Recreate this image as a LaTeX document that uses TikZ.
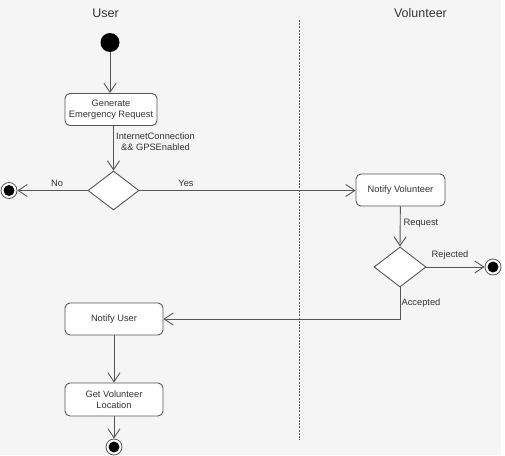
\documentclass[tikz,border=0pt]{standalone}
\usepackage{fontspec}
\setmainfont{Liberation Sans}
\usetikzlibrary{shapes.geometric,arrows.meta}
\definecolor{bg}{HTML}{F5F5F5}
\definecolor{ln}{HTML}{555555}
\definecolor{tx}{HTML}{333333}
\begin{document}
\begin{tikzpicture}[x=1pt,y=-1pt,
  every node/.style={text=tx,font=\fontsize{9.3}{11}\selectfont},
  act/.style={draw=ln,line width=0.9pt,fill=white,rounded corners=5pt,align=center,inner sep=0pt},
  dec/.style={diamond,draw=ln,line width=0.9pt,fill=white,inner sep=0pt},
  final/.style={circle,draw=ln,line width=0.8pt,fill=white,minimum size=16pt,inner sep=0pt,
    path picture={\fill[black] (path picture bounding box.center) circle (5.5pt);}},
  initial/.style={circle,fill=black,minimum size=19pt,inner sep=0pt},
  arr/.style={draw=ln,line width=0.9pt,-{Straight Barb[length=9pt,width=12pt,line width=0.9pt]}},
  lane/.style={font=\fontsize{12.5}{14}\selectfont},
  lbl/.style={inner sep=0pt,align=center}]
\useasboundingbox (0,0) rectangle (505,455);
\fill[bg] (0,0) rectangle (501,455);
\node[lane] (lu) at (105.5,13) {User};
\node[lane] (lv) at (420.5,13) {Volunteer};
\coordinate (dtop) at (299,20);
\coordinate (dbot) at (299,440);
\draw[ln,line width=0.9pt,dash pattern=on 2pt off 1.2pt] (dtop) -- (dbot);

\node[initial] (start) at (110,42.5) {};
\node[act,minimum width=92pt,minimum height=32pt] (gen) at (111,109.5) {Generate\\Emergency Request};
\node[dec,minimum width=51pt,minimum height=39pt] (d1) at (113.5,190.5) {};
\node[final] (f1) at (9,190.5) {};
\node[act,minimum width=89pt,minimum height=32pt] (nv) at (400.5,190) {Notify Volunteer};
\node[dec,minimum width=52pt,minimum height=40pt] (d2) at (400,267) {};
\node[final] (f2) at (493,267) {};
\node[act,minimum width=98pt,minimum height=32pt] (nu) at (114,319) {Notify User};
\node[act,minimum width=98pt,minimum height=33pt] (gvl) at (114,399.5) {Get Volunteer\\Location};
\node[final] (f3) at (114,447) {};

\draw[arr] (start) -- (start |- gen.north);
\draw[arr] (gen.south -| d1.north) -- (d1.north);
\node[lbl] (cond) at (155.5,142) {InternetConnection\\\&\& GPSEnabled};
\draw[arr] (d1.west) -- (f1);
\node[lbl] (no) at (57,183) {No};
\draw[arr] (d1.east) -- (nv.west |- d1.east);
\node[lbl] (yes) at (186,183) {Yes};
\draw[arr] (nv) -- (d2.north);
\node[lbl] (req) at (421,223) {Request};
\draw[arr] (d2.east) -- (f2);
\node[lbl] (rej) at (450,255) {Rejected};
\draw[arr] (d2.south) |- (nu.east);
\node[lbl] (acc) at (421,303) {Accepted};
\draw[arr] (nu) -- (gvl);
\draw[arr] (gvl) -- (f3);
\end{tikzpicture}
\end{document}
